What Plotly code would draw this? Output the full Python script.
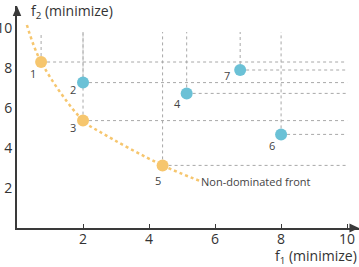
import plotly.graph_objects as go

# ---- data ----
front_ids = ["1", "3", "5"]
front_f1 = [0.73, 2.0, 4.41]
front_f2 = [8.3, 5.37, 3.13]

dom_ids = ["2", "4", "6", "7"]
dom_f1 = [2.0, 5.14, 8.0, 6.76]
dom_f2 = [7.27, 6.73, 4.68, 7.9]

curve_f1 = [0.3, 0.73, 2.0, 2.52, 4.41, 5.55]
curve_f2 = [10.15, 8.3, 5.37, 4.8, 3.13, 2.35]

x_ticks = [2, 4, 6, 8, 10]
y_ticks = [2, 4, 6, 8, 10]

# ---- style constants ----
ORANGE = "#F6C66E"
BLUE = "#6BC1D6"
GRID = "#A8A8A8"
AX = "#3a3a3a"
FONT = "Open Sans"
VTOP = 9.8
HRIGHT = 10.0
label_shift = {"1": (-8, -11), "2": (-10, -7), "3": (-10, -7), "4": (-9, -10),
               "5": (-5, -15), "6": (-9, -11), "7": (-13, -5)}

fig = go.Figure()

all_ids = front_ids + dom_ids
all_f1 = front_f1 + dom_f1
all_f2 = front_f2 + dom_f2

# dotted guide lines
gx, gy = [], []
for f1, f2 in zip(all_f1, all_f2):
    gx += [f1, f1, None, f1, HRIGHT, None]
    gy += [f2, VTOP, None, f2, f2, None]
fig.add_trace(go.Scatter(x=gx, y=gy, mode="lines",
                         line=dict(color=GRID, width=1, dash="dot"),
                         hoverinfo="skip", showlegend=False))

# non-dominated front curve
fig.add_trace(go.Scatter(x=curve_f1, y=curve_f2, mode="lines",
                         line=dict(color=ORANGE, width=2.5, dash="dot", shape="spline"),
                         hoverinfo="skip", showlegend=False))

fig.add_trace(go.Scatter(x=front_f1, y=front_f2, mode="markers",
                         marker=dict(color=ORANGE, size=12), showlegend=False))
fig.add_trace(go.Scatter(x=dom_f1, y=dom_f2, mode="markers",
                         marker=dict(color=BLUE, size=12), showlegend=False))

for i, f1, f2 in zip(all_ids, all_f1, all_f2):
    dx, dy = label_shift[i]
    fig.add_annotation(x=f1, y=f2, text=i, showarrow=False, xshift=dx, yshift=dy,
                       font=dict(family=FONT, size=11, color="#444"))

fig.add_annotation(x=curve_f1[-1], y=curve_f2[-1], text="Non-dominated front",
                   showarrow=False, xanchor="left", yanchor="middle", xshift=-1,
                   font=dict(family=FONT, size=11, color="#444"))

# axis titles
fig.add_annotation(xref="paper", yref="paper", x=0.036, y=0.973, text="f<sub>2</sub> (minimize)",
                   showarrow=False, xanchor="left", yanchor="middle",
                   font=dict(family=FONT, size=14, color="#333"))
fig.add_annotation(xref="paper", yref="paper", x=1.0, y=-0.128, text="f<sub>1</sub> (minimize)",
                   showarrow=False, xanchor="right", yanchor="middle",
                   font=dict(family=FONT, size=14, color="#333"))

# arrow heads
fig.add_shape(type="path", xref="paper", yref="paper",
              path="M 0,1 L -0.0125,0.955 L 0.0125,0.955 Z",
              fillcolor=AX, line=dict(width=0))
fig.add_shape(type="path", xref="paper", yref="paper",
              path="M 1,0 L 0.972,0.02 L 0.972,-0.02 Z",
              fillcolor=AX, line=dict(width=0))

fig.update_layout(
    width=359, height=267,
    margin=dict(l=17, r=0, t=6, b=39),
    paper_bgcolor="white", plot_bgcolor="white",
    font=dict(family=FONT, size=14, color="#333"),
    xaxis=dict(range=[0, 10.36], tickvals=x_ticks, showgrid=False, zeroline=False,
               showline=True, linecolor=AX, linewidth=2, ticks="inside", ticklen=4,
               tickcolor=AX, tickwidth=1, automargin=False, ticklabelstandoff=-3,
               tickfont=dict(family=FONT, size=14, color="#333")),
    yaxis=dict(range=[0, 11.1], tickvals=y_ticks, showgrid=False, zeroline=False,
               showline=True, linecolor=AX, linewidth=2, ticks="", automargin=False,
               tickfont=dict(family=FONT, size=14, color="#333")),
)

fig.write_html("out.html")
